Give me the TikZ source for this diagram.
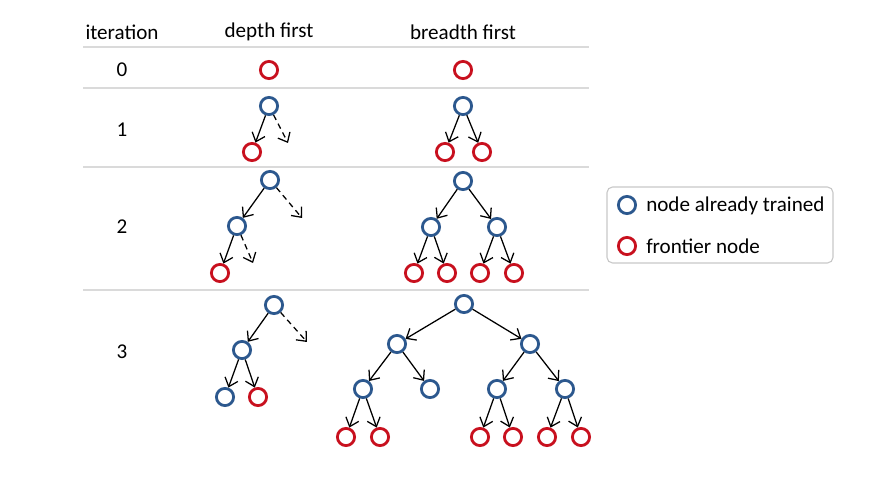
\documentclass[tikz,border=0pt]{standalone}
\usepackage{fontspec}
\setmainfont{Carlito}
\usetikzlibrary{arrows.meta}
\definecolor{trainblue}{RGB}{44,88,142}
\definecolor{frontred}{RGB}{200,16,30}
\definecolor{rulegray}{RGB}{218,218,218}
\definecolor{boxgray}{RGB}{200,200,200}

\begin{document}
\begin{tikzpicture}[
  x=0.025cm, y=-0.025cm,
  font=\fontsize{15}{18}\selectfont,
  trained/.style={circle, draw=trainblue, line width=2pt, minimum size=0.43cm, inner sep=0pt},
  frontier/.style={circle, draw=frontred, line width=2pt, minimum size=0.43cm, inner sep=0pt},
  link/.style={-{Straight Barb[length=2mm, width=3.4mm]}, line width=0.9pt},
  pending/.style={link, dash pattern=on 4pt off 3pt},
  rowrule/.style={draw=rulegray, line width=0.9pt},
  legendbox/.style={draw=boxgray, line width=0.8pt, rounded corners=4pt, minimum width=5.65cm, minimum height=1.9cm}
]
\useasboundingbox (0,0) rectangle (889,477);

%% ---------- Header and rules ----------
\node (hiter)    at (122,32) {iteration};
\node (hdepth)   at (269,32) {depth first};
\node (hbreadth) at (463,32) {breadth first};

\draw[rowrule] (83,47)  -- (589,47);
\draw[rowrule] (83,88)  -- (589,88);
\draw[rowrule] (83,167) -- (589,167);
\draw[rowrule] (83,290) -- (589,290);

\node (it0) at (122,70)  {0};
\node (it1) at (122,130) {1};
\node (it2) at (122,227) {2};
\node (it3) at (122,352) {3};

%% ---------- Iteration 0 ----------
\node[frontier] (d0) at (269,70) {};
\node[frontier] (b0) at (463,70) {};

%% ---------- Iteration 1 ----------
\node[trained]  (d1r) at (269,106) {};
\node[frontier] (d1a) at (252,152) {};
\coordinate     (d1p) at (288,143);
\draw[link]    (d1r) -- (d1a);
\draw[pending] (d1r) -- (d1p);

\node[trained]  (b1r) at (463,106) {};
\node[frontier] (b1a) at (445,152) {};
\node[frontier] (b1b) at (482,152) {};
\draw[link] (b1r) -- (b1a);
\draw[link] (b1r) -- (b1b);

%% ---------- Iteration 2 ----------
\node[trained]  (d2r)  at (270,180) {};
\node[trained]  (d2a)  at (237,226) {};
\node[frontier] (d2aa) at (220,273) {};
\coordinate     (d2p)  at (302,218);
\coordinate     (d2ap) at (253,263);
\draw[link]    (d2r) -- (d2a);
\draw[pending] (d2r) -- (d2p);
\draw[link]    (d2a) -- (d2aa);
\draw[pending] (d2a) -- (d2ap);

\node[trained]  (b2r)  at (463,181) {};
\node[trained]  (b2a)  at (431,227) {};
\node[trained]  (b2b)  at (497,227) {};
\node[frontier] (b2aa) at (414,273) {};
\node[frontier] (b2ab) at (447,273) {};
\node[frontier] (b2ba) at (480,273) {};
\node[frontier] (b2bb) at (514,273) {};
\draw[link] (b2r) -- (b2a);
\draw[link] (b2r) -- (b2b);
\draw[link] (b2a) -- (b2aa);
\draw[link] (b2a) -- (b2ab);
\draw[link] (b2b) -- (b2ba);
\draw[link] (b2b) -- (b2bb);

%% ---------- Iteration 3 ----------
\node[trained]  (d3r)  at (274,305) {};
\node[trained]  (d3a)  at (242,350) {};
\node[trained]  (d3aa) at (225,397) {};
\node[frontier] (d3ab) at (258,397) {};
\coordinate     (d3p)  at (307,342);
\draw[link]    (d3r) -- (d3a);
\draw[pending] (d3r) -- (d3p);
\draw[link]    (d3a) -- (d3aa);
\draw[link]    (d3a) -- (d3ab);

\node[trained]  (b3r)   at (464,304) {};
\node[trained]  (b3a)   at (397,344) {};
\node[trained]  (b3b)   at (530,344) {};
\node[trained]  (b3aa)  at (363,389) {};
\node[trained]  (b3ab)  at (430,389) {};
\node[trained]  (b3ba)  at (497,389) {};
\node[trained]  (b3bb)  at (565,389) {};
\node[frontier] (b3aaa) at (346,437) {};
\node[frontier] (b3aab) at (380,437) {};
\node[frontier] (b3baa) at (480,437) {};
\node[frontier] (b3bab) at (513,437) {};
\node[frontier] (b3bba) at (547,437) {};
\node[frontier] (b3bbb) at (581,437) {};
\draw[link] (b3r)  -- (b3a);
\draw[link] (b3r)  -- (b3b);
\draw[link] (b3a)  -- (b3aa);
\draw[link] (b3a)  -- (b3ab);
\draw[link] (b3b)  -- (b3ba);
\draw[link] (b3b)  -- (b3bb);
\draw[link] (b3aa) -- (b3aaa);
\draw[link] (b3aa) -- (b3aab);
\draw[link] (b3ba) -- (b3baa);
\draw[link] (b3ba) -- (b3bab);
\draw[link] (b3bb) -- (b3bba);
\draw[link] (b3bb) -- (b3bbb);

%% ---------- Legend ----------
\node[legendbox] (legend) at (720,225) {};
\node[trained]  (ltrained)  at (627,205) {};
\node[frontier] (lfrontier) at (627,246) {};
\node[anchor=west, inner sep=0pt] (ltrainedtxt)  at (646,206) {node already trained};
\node[anchor=west, inner sep=0pt] (lfrontiertxt) at (646,246) {frontier node};

\end{tikzpicture}
\end{document}
